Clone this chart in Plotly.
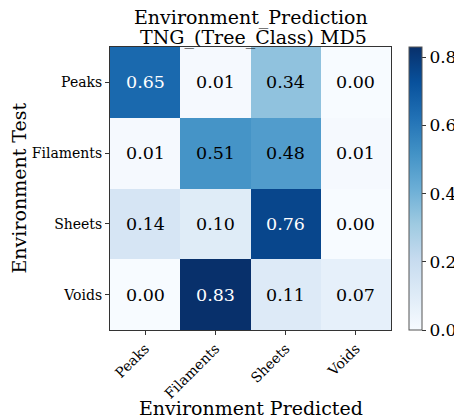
import plotly.graph_objects as go

categories = ["Peaks", "Filaments", "Sheets", "Voids"]
values = [
    [0.65, 0.01, 0.34, 0.00],
    [0.01, 0.51, 0.48, 0.01],
    [0.14, 0.10, 0.76, 0.00],
    [0.00, 0.83, 0.11, 0.07],
]
colorbar_ticks = [0.0, 0.2, 0.4, 0.6, 0.8]

blues = [
    [0.0, "rgb(247,251,255)"], [0.125, "rgb(222,235,247)"], [0.25, "rgb(198,219,239)"],
    [0.375, "rgb(158,202,225)"], [0.5, "rgb(107,174,214)"], [0.625, "rgb(66,146,198)"],
    [0.75, "rgb(33,113,181)"], [0.875, "rgb(8,81,156)"], [1.0, "rgb(8,48,107)"],
]
FONT = "DejaVu Serif"

fig = go.Figure(go.Heatmap(
    z=values, x=categories, y=categories, colorscale=blues, zmin=0, zmax=0.83,
    showscale=True, xgap=0, ygap=0,
    colorbar=dict(
        x=1.064, xanchor="left", y=0.5, yanchor="middle", len=1, lenmode="fraction",
        xpad=0, ypad=0,
        thickness=13, outlinewidth=1, outlinecolor="#555",
        tickvals=colorbar_ticks, ticktext=[f"{v:.1f}" for v in colorbar_ticks],
        ticks="outside", ticklen=4, tickcolor="#333",
        tickfont=dict(family=FONT, size=17, color="black"),
    ),
))

for i, row in enumerate(values):
    for j, v in enumerate(row):
        fig.add_annotation(
            x=categories[j], y=categories[i], text=f"{v:.2f}", showarrow=False,
            font=dict(family=FONT, size=17.5, color="white" if v > 0.6 else "black"),
        )

fig.add_annotation(
    text="Environment_Prediction", xref="paper", yref="paper",
    x=0.5, y=1, xanchor="center", yanchor="middle", yshift=30, showarrow=False,
    font=dict(family=FONT, size=19, color="black"),
)
fig.add_annotation(
    text=" TNG_(Tree_Class) MD5", xref="paper", yref="paper",
    x=0.5, y=1, xanchor="center", yanchor="middle", yshift=10, showarrow=False,
    font=dict(family=FONT, size=19, color="black"),
)
fig.add_annotation(
    text="Environment Predicted", xref="paper", yref="paper", x=0.5, y=0,
    xanchor="center", yanchor="middle", yshift=-78, showarrow=False,
    font=dict(family=FONT, size=19, color="black"),
)
fig.add_annotation(
    text="Environment Test", xref="paper", yref="paper", x=0, y=0.5,
    xanchor="center", yanchor="middle", xshift=-92, textangle=-90, showarrow=False,
    font=dict(family=FONT, size=19, color="black"),
)

# page body has an 8px margin, so the figure is 8px smaller and margins compensate
fig.update_layout(
    width=454, height=410,
    margin=dict(l=102, r=71, t=39, b=88, autoexpand=False),
    paper_bgcolor="white", plot_bgcolor="white",
    font=dict(family=FONT, color="black"),
    xaxis=dict(
        tickangle=-45, tickfont=dict(family=FONT, size=14), ticks="outside", ticklen=4,
        tickcolor="#333", showline=True, linecolor="#333", mirror=True, showgrid=False,
        automargin=False,
    ),
    yaxis=dict(
        autorange="reversed", tickfont=dict(family=FONT, size=14), ticks="outside",
        ticklen=4, tickcolor="#333", showline=True, linecolor="#333", mirror=True,
        showgrid=False, automargin=False,
    ),
)

fig.write_html("out.html")
